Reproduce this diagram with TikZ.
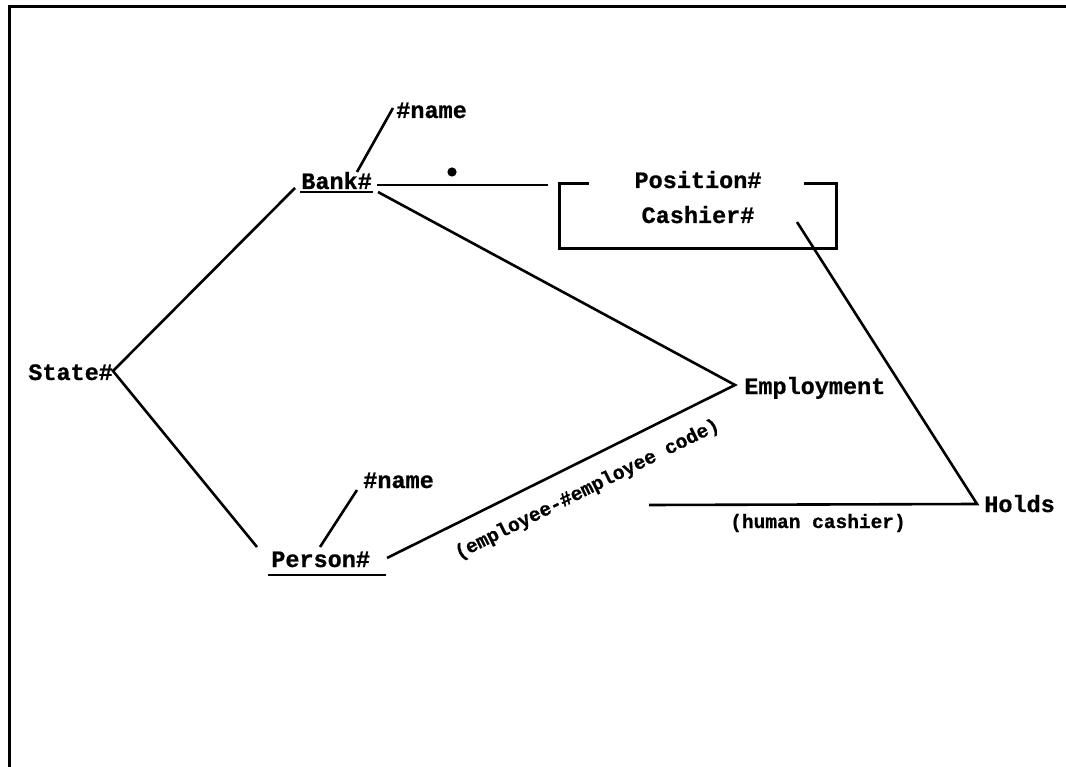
\documentclass[tikz,border=0pt]{standalone}
\usepackage{fontspec}
\setmonofont[BoldFeatures={FakeBold=0.8}]{Liberation Mono}
\begin{document}
\begin{tikzpicture}[x=1pt,y=-1pt,
  line width=2.6pt,
  lbl/.style={inner sep=0pt,font=\ttfamily\bfseries\fontsize{23.5}{26}\selectfont},
  small/.style={inner sep=0pt,font=\ttfamily\bfseries\fontsize{19.5}{22}\selectfont},
  ul/.style={line width=2pt},
  conn/.style={line width=2.6pt}]
\useasboundingbox (0,0) rectangle (1066,767);

% frame (top and left edges only)
\coordinate (ftr) at (1066,7);
\coordinate (ftl) at (9,7);
\coordinate (fbl) at (9,767);
\draw[line width=3pt] (ftr) -- (ftl) -- (fbl);

% entity and relationship labels
\node[lbl,anchor=base west] (state) at (27,380) {State\#};
\node[lbl,anchor=base west] (bank) at (300,189) {Bank\#};
\node[lbl,anchor=base west] (bankname) at (395,118) {\#name};
\node[lbl,anchor=base west] (person) at (270,567) {Person\#};
\node[lbl,anchor=base west] (personname) at (362,488) {\#name};
\node[lbl,anchor=base west] (employ) at (743,394) {Employment};
\node[lbl,anchor=base west] (holds) at (983,512) {Holds};

% position box
\node[minimum width=274pt,minimum height=62pt,inner sep=0pt] (box) at (698,216) {};
\node[lbl,anchor=base] (position) at (698,188) {Position\#};
\node[lbl,anchor=base] (cashier) at (698,223) {Cashier\#};
\draw[conn] ([xshift=29pt]box.north west) -- (box.north west) -- (box.south west)
  -- (box.south east) -- (box.north east) -- ([xshift=-32pt]box.north east);

% underlines of the key entities
\draw[ul] (300,192) -- (373,192);
\draw[ul] (268,575) -- (386,575);

% connector end points
\coordinate (sv) at (113,371);
\coordinate (bankL) at (295,188);
\coordinate (bankR) at (377,185);
\coordinate (bankLow) at (378,192);
\coordinate (bankTop) at (357,172);
\coordinate (bankNameEnd) at (393,108);
\coordinate (posEnd) at (548,185);
\coordinate (personL) at (257,547);
\coordinate (personR) at (387,558);
\coordinate (personTop) at (320,547);
\coordinate (personNameEnd) at (357,490);
\coordinate (ev) at (735,385);
\coordinate (boxIn) at (797,222);
\coordinate (hv) at (977,504);
\coordinate (hcEnd) at (649,505);
\coordinate (dot) at (452,172);

% connectors
\draw[conn] (bankL) -- (sv) -- (personL);
\draw[conn] (bankTop) -- (bankNameEnd);
\draw[conn] (personTop) -- (personNameEnd);
\draw[conn] (bankR) -- (posEnd);
\fill (dot) circle (4.6pt);
\draw[conn] (bankLow) -- (ev) -- (personR)
  node[small,pos=0.46,sloped,anchor=center,yshift=-28pt] (empcode) {(employee-\#employee code)};
\draw[conn] (boxIn) -- (hv) -- (hcEnd);
\node[small,anchor=base] (human) at (818,528) {(human cashier)};
\end{tikzpicture}
\end{document}
